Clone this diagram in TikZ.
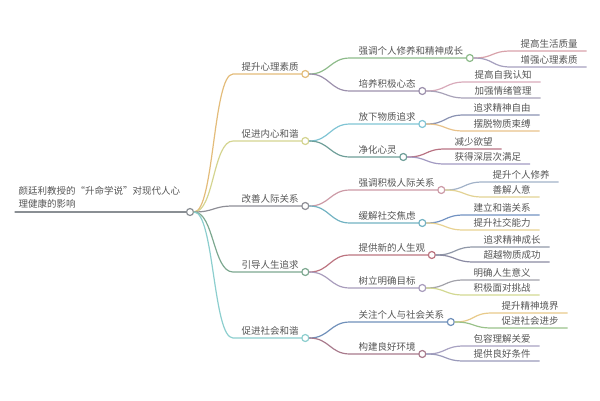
\documentclass[tikz,border=0pt]{standalone}
\usepackage{fontspec}
\usepackage{xcolor}
\usetikzlibrary{positioning}
\newfontfamily\cjk{Noto Sans CJK SC}
\definecolor{textgray}{HTML}{555555}
\definecolor{rootgray}{HTML}{8A8F94}
\definecolor{brA}{HTML}{E3BC7A}
\definecolor{brB}{HTML}{D4D490}
\definecolor{brC}{HTML}{8E8E96}
\definecolor{brD}{HTML}{7DA890}
\definecolor{brE}{HTML}{8CCECE}
\definecolor{subA}{HTML}{8DBB8A}
\definecolor{subB}{HTML}{9C90AC}
\definecolor{subC}{HTML}{80C4D4}
\definecolor{subD}{HTML}{6E9E98}
\definecolor{subE}{HTML}{CC9AA6}
\definecolor{subF}{HTML}{72B2C2}
\definecolor{subG}{HTML}{BC7480}
\definecolor{subH}{HTML}{A89CBC}
\definecolor{subI}{HTML}{7090BA}
\definecolor{subJ}{HTML}{A87A8C}
\definecolor{lfA}{HTML}{D8A2AA}
\definecolor{lfB}{HTML}{A6A0BE}
\definecolor{lfC}{HTML}{D8AABA}
\definecolor{lfD}{HTML}{A8A2B8}
\definecolor{lfE}{HTML}{8A92B2}
\definecolor{lfF}{HTML}{E8C28A}
\definecolor{lfG}{HTML}{B87282}
\definecolor{lfH}{HTML}{A29AC2}
\definecolor{lfI}{HTML}{A2B2C8}
\definecolor{lfJ}{HTML}{E2D294}
\definecolor{lfK}{HTML}{7292C2}
\definecolor{lfL}{HTML}{E8D292}
\definecolor{lfM}{HTML}{9098A8}
\definecolor{lfN}{HTML}{8A8AA2}
\definecolor{lfO}{HTML}{A2A2AA}
\definecolor{lfP}{HTML}{D2D892}
\definecolor{lfQ}{HTML}{E8CA8A}
\definecolor{lfR}{HTML}{9AC28A}
\definecolor{lfS}{HTML}{A8A2C2}
\definecolor{lfT}{HTML}{9A9ABA}

\begin{document}
\begin{tikzpicture}[
  x=1pt, y=-1pt,
  line width=1.2pt,
  every node/.style={font=\cjk\fontsize{9.5}{13}\selectfont, text=textgray},
  topic/.style={inner xsep=0pt, inner ysep=2pt},
  dot/.style={circle, fill=white, inner sep=0pt, minimum size=7pt, line width=1.2pt},
  link/.style={line cap=round}
]
  \useasboundingbox (0,0) rectangle (600,400);

  \coordinate (rootin) at (15,212);
  \node[topic, align=left, anchor=south west, inner ysep=3pt] (root) at (18,212) {颜廷利教授的“升命学说”对现代人心\\理健康的影响};
  \node[dot, draw=rootgray] (rootc) at (190,212) {};
  \draw[link, rootgray] (rootin) -- (rootc);

  \coordinate (m1in) at (233,74);
  \coordinate (m2in) at (233,141);
  \coordinate (m3in) at (233,206);
  \coordinate (m4in) at (233,272);
  \coordinate (m5in) at (233,338);
  \node[topic, above right=0pt and 8pt of m1in] (m1) {提升心理素质};
  \node[topic, above right=0pt and 8pt of m2in] (m2) {促进内心和谐};
  \node[topic, above right=0pt and 8pt of m3in] (m3) {改善人际关系};
  \node[topic, above right=0pt and 8pt of m4in] (m4) {引导人生追求};
  \node[topic, above right=0pt and 8pt of m5in] (m5) {促进社会和谐};
  \node[dot, draw=brA, right=2pt of m1.south east] (m1c) {};
  \node[dot, draw=brB, right=2pt of m2.south east] (m2c) {};
  \node[dot, draw=brC, right=2pt of m3.south east] (m3c) {};
  \node[dot, draw=brD, right=2pt of m4.south east] (m4c) {};
  \node[dot, draw=brE, right=2pt of m5.south east] (m5c) {};
  \draw[link, brA] (rootc.east) .. controls +(20,0) and +(-20,0) .. (m1in) -- (m1c);
  \draw[link, brB] (rootc.east) .. controls +(20,0) and +(-20,0) .. (m2in) -- (m2c);
  \draw[link, brC] (rootc.east) .. controls +(20,0) and +(-20,0) .. (m3in) -- (m3c);
  \draw[link, brD] (rootc.east) .. controls +(20,0) and +(-20,0) .. (m4in) -- (m4c);
  \draw[link, brE] (rootc.east) .. controls +(20,0) and +(-20,0) .. (m5in) -- (m5c);

  \coordinate (s1in) at (350,58);
  \coordinate (s2in) at (350,91);
  \coordinate (s3in) at (350,124);
  \coordinate (s4in) at (350,157);
  \coordinate (s5in) at (350,190);
  \coordinate (s6in) at (350,223);
  \coordinate (s7in) at (350,255);
  \coordinate (s8in) at (350,288);
  \coordinate (s9in) at (350,322);
  \coordinate (s10in) at (350,354);
  \node[topic, above right=0pt and 8pt of s1in] (s1) {强调个人修养和精神成长};
  \node[topic, above right=0pt and 8pt of s2in] (s2) {培养积极心态};
  \node[topic, above right=0pt and 8pt of s3in] (s3) {放下物质追求};
  \node[topic, above right=0pt and 8pt of s4in] (s4) {净化心灵};
  \node[topic, above right=0pt and 8pt of s5in] (s5) {强调积极人际关系};
  \node[topic, above right=0pt and 8pt of s6in] (s6) {缓解社交焦虑};
  \node[topic, above right=0pt and 8pt of s7in] (s7) {提供新的人生观};
  \node[topic, above right=0pt and 8pt of s8in] (s8) {树立明确目标};
  \node[topic, above right=0pt and 8pt of s9in] (s9) {关注个人与社会关系};
  \node[topic, above right=0pt and 8pt of s10in] (s10) {构建良好环境};
  \node[dot, draw=subA, right=2pt of s1.south east] (s1c) {};
  \node[dot, draw=subB, right=2pt of s2.south east] (s2c) {};
  \node[dot, draw=subC, right=2pt of s3.south east] (s3c) {};
  \node[dot, draw=subD, right=2pt of s4.south east] (s4c) {};
  \node[dot, draw=subE, right=2pt of s5.south east] (s5c) {};
  \node[dot, draw=subF, right=2pt of s6.south east] (s6c) {};
  \node[dot, draw=subG, right=2pt of s7.south east] (s7c) {};
  \node[dot, draw=subH, right=2pt of s8.south east] (s8c) {};
  \node[dot, draw=subI, right=2pt of s9.south east] (s9c) {};
  \node[dot, draw=subJ, right=2pt of s10.south east] (s10c) {};
  \draw[link, subA] (m1c.east) .. controls +(20,0) and +(-20,0) .. (s1in) -- (s1c);
  \draw[link, subB] (m1c.east) .. controls +(20,0) and +(-20,0) .. (s2in) -- (s2c);
  \draw[link, subC] (m2c.east) .. controls +(20,0) and +(-20,0) .. (s3in) -- (s3c);
  \draw[link, subD] (m2c.east) .. controls +(20,0) and +(-20,0) .. (s4in) -- (s4c);
  \draw[link, subE] (m3c.east) .. controls +(20,0) and +(-20,0) .. (s5in) -- (s5c);
  \draw[link, subF] (m3c.east) .. controls +(20,0) and +(-20,0) .. (s6in) -- (s6c);
  \draw[link, subG] (m4c.east) .. controls +(20,0) and +(-20,0) .. (s7in) -- (s7c);
  \draw[link, subH] (m4c.east) .. controls +(20,0) and +(-20,0) .. (s8in) -- (s8c);
  \draw[link, subI] (m5c.east) .. controls +(20,0) and +(-20,0) .. (s9in) -- (s9c);
  \draw[link, subJ] (m5c.east) .. controls +(20,0) and +(-20,0) .. (s10in) -- (s10c);

  \coordinate (l1in) at (511,51);
  \coordinate (l2in) at (511,67);
  \coordinate (l3in) at (465,82);
  \coordinate (l4in) at (465,98);
  \coordinate (l5in) at (464,115);
  \coordinate (l6in) at (464,131);
  \coordinate (l7in) at (445,149);
  \coordinate (l8in) at (445,164);
  \coordinate (l9in) at (483,182);
  \coordinate (l10in) at (483,197);
  \coordinate (l11in) at (464,215);
  \coordinate (l12in) at (464,230);
  \coordinate (l13in) at (474,247);
  \coordinate (l14in) at (474,262);
  \coordinate (l15in) at (464,280);
  \coordinate (l16in) at (464,295);
  \coordinate (l17in) at (492,313);
  \coordinate (l18in) at (492,328);
  \coordinate (l19in) at (464,346);
  \coordinate (l20in) at (464,361);
  \node[topic, above right=0pt and 9pt of l1in] (l1) {提高生活质量};
  \node[topic, above right=0pt and 9pt of l2in] (l2) {增强心理素质};
  \node[topic, above right=0pt and 9pt of l3in] (l3) {提高自我认知};
  \node[topic, above right=0pt and 9pt of l4in] (l4) {加强情绪管理};
  \node[topic, above right=0pt and 9pt of l5in] (l5) {追求精神自由};
  \node[topic, above right=0pt and 9pt of l6in] (l6) {摆脱物质束缚};
  \node[topic, above right=0pt and 9pt of l7in] (l7) {减少欲望};
  \node[topic, above right=0pt and 9pt of l8in] (l8) {获得深层次满足};
  \node[topic, above right=0pt and 9pt of l9in] (l9) {提升个人修养};
  \node[topic, above right=0pt and 9pt of l10in] (l10) {善解人意};
  \node[topic, above right=0pt and 9pt of l11in] (l11) {建立和谐关系};
  \node[topic, above right=0pt and 9pt of l12in] (l12) {提升社交能力};
  \node[topic, above right=0pt and 9pt of l13in] (l13) {追求精神成长};
  \node[topic, above right=0pt and 9pt of l14in] (l14) {超越物质成功};
  \node[topic, above right=0pt and 9pt of l15in] (l15) {明确人生意义};
  \node[topic, above right=0pt and 9pt of l16in] (l16) {积极面对挑战};
  \node[topic, above right=0pt and 9pt of l17in] (l17) {提升精神境界};
  \node[topic, above right=0pt and 9pt of l18in] (l18) {促进社会进步};
  \node[topic, above right=0pt and 9pt of l19in] (l19) {包容理解关爱};
  \node[topic, above right=0pt and 9pt of l20in] (l20) {提供良好条件};
  \draw[link, lfA] (s1c.east) .. controls +(20,0) and +(-20,0) .. (l1in) -- ([xshift=8pt]l1.south east);
  \draw[link, lfB] (s1c.east) .. controls +(20,0) and +(-20,0) .. (l2in) -- ([xshift=8pt]l2.south east);
  \draw[link, lfC] (s2c.east) .. controls +(20,0) and +(-20,0) .. (l3in) -- ([xshift=8pt]l3.south east);
  \draw[link, lfD] (s2c.east) .. controls +(20,0) and +(-20,0) .. (l4in) -- ([xshift=8pt]l4.south east);
  \draw[link, lfE] (s3c.east) .. controls +(20,0) and +(-20,0) .. (l5in) -- ([xshift=8pt]l5.south east);
  \draw[link, lfF] (s3c.east) .. controls +(20,0) and +(-20,0) .. (l6in) -- ([xshift=8pt]l6.south east);
  \draw[link, lfG] (s4c.east) .. controls +(20,0) and +(-20,0) .. (l7in) -- ([xshift=8pt]l7.south east);
  \draw[link, lfH] (s4c.east) .. controls +(20,0) and +(-20,0) .. (l8in) -- ([xshift=8pt]l8.south east);
  \draw[link, lfI] (s5c.east) .. controls +(20,0) and +(-20,0) .. (l9in) -- ([xshift=8pt]l9.south east);
  \draw[link, lfJ] (s5c.east) .. controls +(20,0) and +(-20,0) .. (l10in) -- ([xshift=8pt]l10.south east);
  \draw[link, lfK] (s6c.east) .. controls +(20,0) and +(-20,0) .. (l11in) -- ([xshift=8pt]l11.south east);
  \draw[link, lfL] (s6c.east) .. controls +(20,0) and +(-20,0) .. (l12in) -- ([xshift=8pt]l12.south east);
  \draw[link, lfM] (s7c.east) .. controls +(20,0) and +(-20,0) .. (l13in) -- ([xshift=8pt]l13.south east);
  \draw[link, lfN] (s7c.east) .. controls +(20,0) and +(-20,0) .. (l14in) -- ([xshift=8pt]l14.south east);
  \draw[link, lfO] (s8c.east) .. controls +(20,0) and +(-20,0) .. (l15in) -- ([xshift=8pt]l15.south east);
  \draw[link, lfP] (s8c.east) .. controls +(20,0) and +(-20,0) .. (l16in) -- ([xshift=8pt]l16.south east);
  \draw[link, lfQ] (s9c.east) .. controls +(20,0) and +(-20,0) .. (l17in) -- ([xshift=8pt]l17.south east);
  \draw[link, lfR] (s9c.east) .. controls +(20,0) and +(-20,0) .. (l18in) -- ([xshift=8pt]l18.south east);
  \draw[link, lfS] (s10c.east) .. controls +(20,0) and +(-20,0) .. (l19in) -- ([xshift=8pt]l19.south east);
  \draw[link, lfT] (s10c.east) .. controls +(20,0) and +(-20,0) .. (l20in) -- ([xshift=8pt]l20.south east);
\end{tikzpicture}
\end{document}
